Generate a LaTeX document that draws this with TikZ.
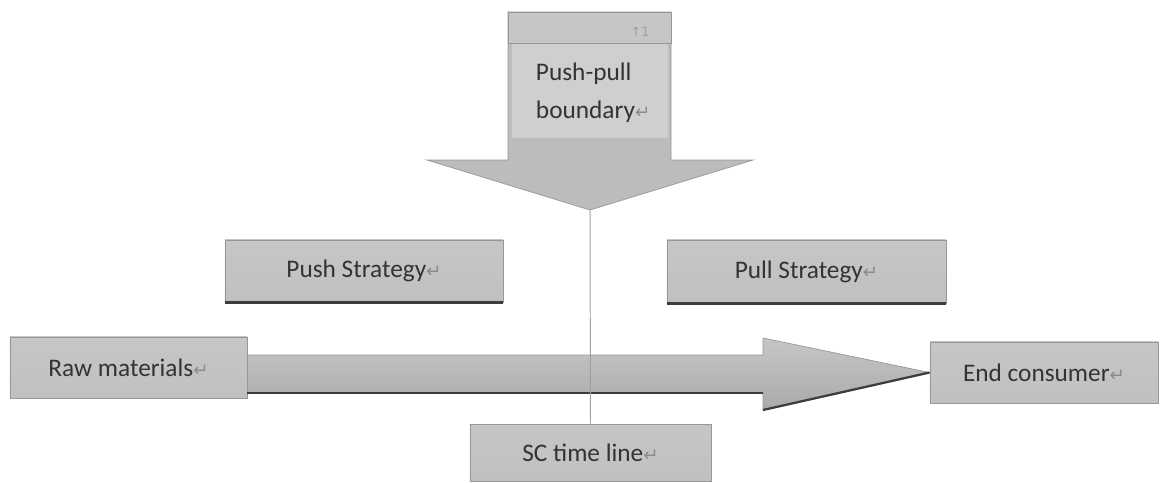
\documentclass[tikz,border=0pt]{standalone}
\usepackage{fontspec}
\setmainfont{Carlito}
\newfontfamily\arrowfont{DejaVu Sans}

% Word-like grey tones
\definecolor{boxtop}{HTML}{C6C6C6}
\definecolor{boxmid}{HTML}{AAAAAA}
\definecolor{boxbot}{HTML}{C0C0C0}
\definecolor{boxedge}{HTML}{979797}
\definecolor{darkedge}{HTML}{3C3C3C}
\definecolor{labeltext}{HTML}{333333}

% paragraph mark after each label
\newcommand\retmark{{\arrowfont\fontsize{13}{13}\selectfont\color{black!45}↵}}

\tikzset{
  greybox/.style={draw=boxedge, line width=0.6pt, top color=boxtop, middle color=boxmid,
    bottom color=boxbot, inner sep=0pt, text=labeltext,
    font=\fontsize{18}{27}\selectfont},
  bigarrow/.style={draw=boxedge, line width=0.5pt, top color=boxtop, bottom color=boxmid},
  shadowline/.style={darkedge, line width=1.6pt},
  guide/.style={draw=gray!75, line width=0.7pt},
}

\begin{document}
\begin{tikzpicture}[x=0.025cm, y=-0.025cm]
  \useasboundingbox (0,0) rectangle (1160,482);

  % Push-pull boundary arrow pointing down
  \draw[boxedge, line width=0.5pt, fill=boxtop!95!black]
    (508,12) -- (671,12) -- (671,160) -- (753,160) -- (590,210)
    -- (427,160) -- (508,160) -- cycle;
  \coordinate (tip) at (590,210);
  \draw[boxedge, line width=0.5pt, fill=boxtop] (508,12) rectangle (671,43);
  \shade[top color=boxtop!85!white, middle color=boxmid, bottom color=boxtop!85!white]
    (512,44) rectangle (668,137);
  \node[text=gray!75, font=\arrowfont\fontsize{9}{9}\selectfont] (mark) at (640,32) {↑1};
  \node[anchor=west, align=left, text=labeltext, font=\fontsize{18}{27}\selectfont]
    (boundary) at (531,93) {Push-pull\\boundary\retmark};

  % Strategy boxes
  \node[greybox, minimum width=6.95cm, minimum height=1.55cm] (push) at (364,271)
    {Push Strategy\retmark};
  \node[greybox, minimum width=6.975cm, minimum height=1.575cm] (pull) at (806.5,271.5)
    {Pull Strategy\retmark};
  \draw[shadowline] (push.south west) -- (push.south east);
  \draw[shadowline] (pull.south west) -- (pull.south east);

  % Supply chain ends
  \node[greybox, minimum width=5.925cm, minimum height=1.525cm] (raw) at (128.5,367.5)
    {Raw materials\retmark};
  \node[greybox, minimum width=5.7cm, minimum height=1.525cm] (cons) at (1044,372.5)
    {End consumer\retmark};

  % Flow arrow from raw materials to consumer
  \draw[bigarrow] (raw.east |- 0,355) -- (763,355) -- (763,338) -- (cons.west)
    -- (763,410) -- (763,393) -- (raw.east |- 0,393) -- cycle;
  \draw[shadowline] (raw.east |- 0,393) -- (763,393);
  \draw[shadowline] (763,410) -- (cons.west);

  % Time line box
  \node[greybox, minimum width=6.025cm, minimum height=1.425cm] (sc) at (590.5,452.5)
    {SC time line\retmark};

  % Boundary line down to the time line
  \draw[guide] (tip) -- (sc.north);
\end{tikzpicture}
\end{document}
